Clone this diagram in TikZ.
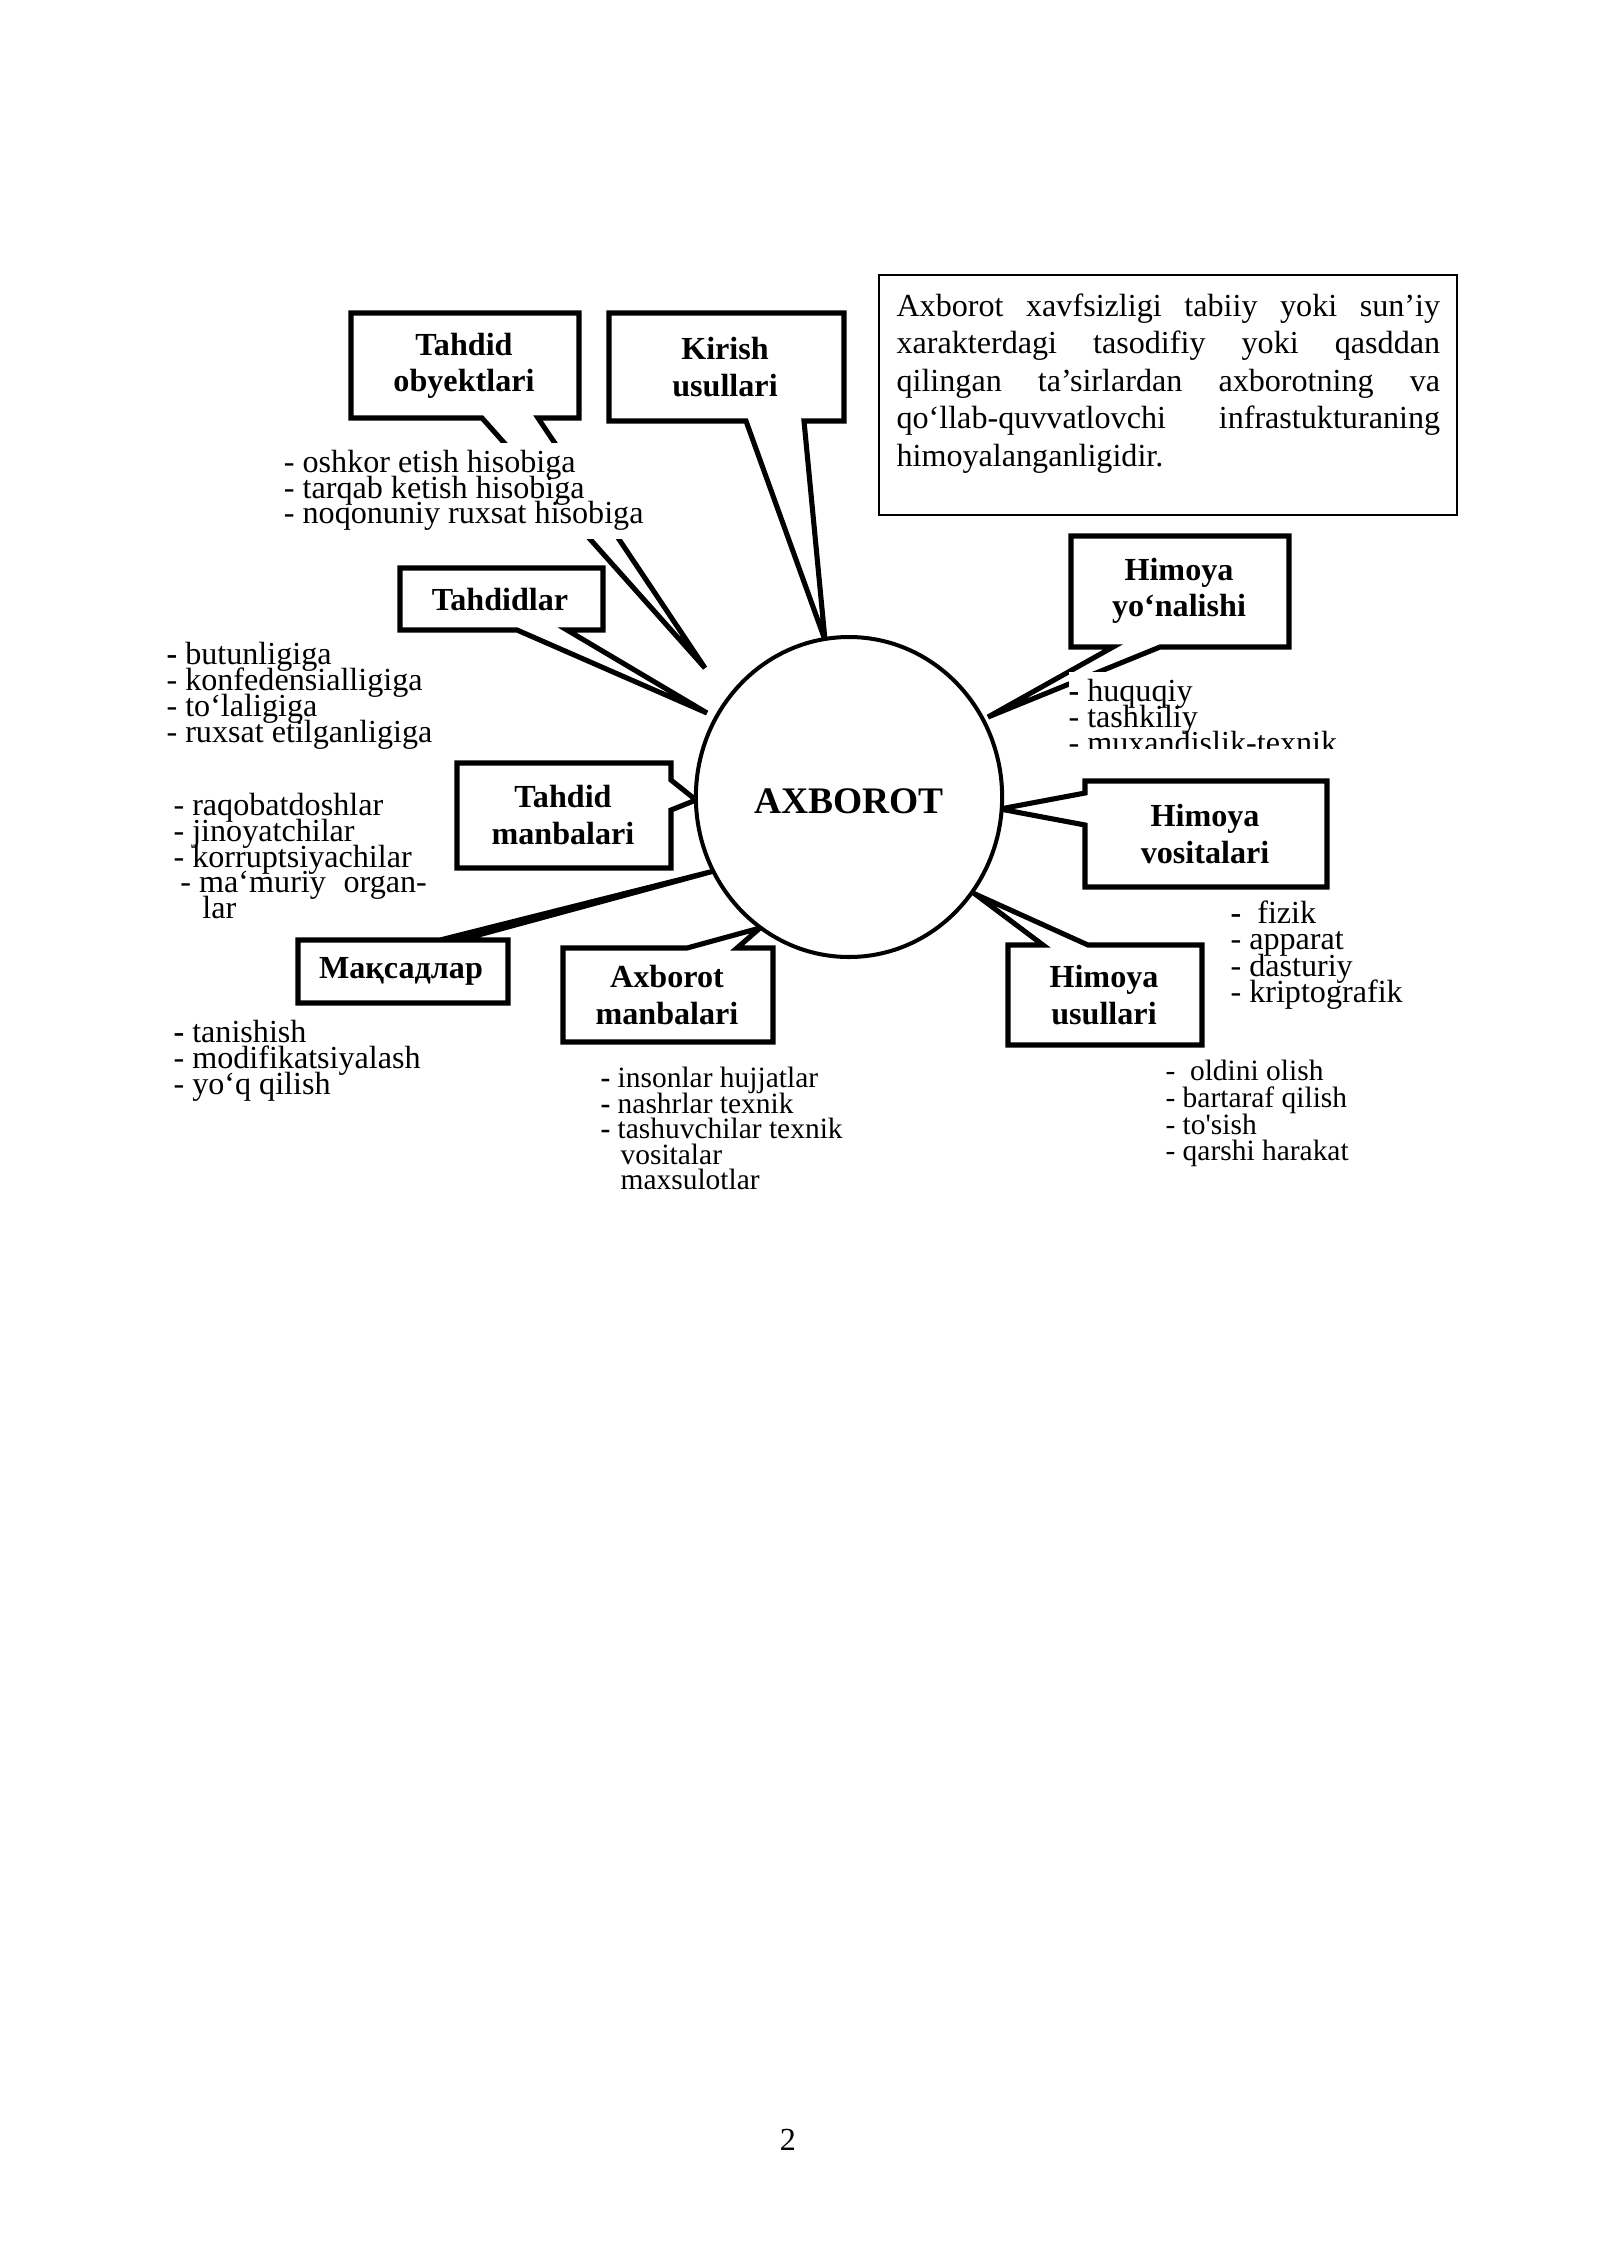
\documentclass[tikz,border=0pt]{standalone}
\usepackage{fontspec}
\newfontfamily\mainserif{Liberation Serif}
\usetikzlibrary{shapes.geometric}
\newcommand\lstfont[2]{\mainserif\fontsize{#1}{#2}\selectfont\lineskiplimit=-30pt\relax}
\newcommand\hdfont{\mainserif\bfseries\fontsize{12}{13.5}\selectfont\lineskiplimit=-30pt\relax}
\newcommand\dffont{\mainserif\fontsize{12}{14.0}\selectfont\lineskiplimit=-30pt\relax}
\newcommand\bd{{\bfseries -}}
\begin{document}
\begin{tikzpicture}[x=0.13125mm,y=-0.13125mm,
  bubble/.style={draw=black, fill=white, line width=1.9pt, line join=miter},
  head/.style={font=\hdfont, align=center, inner sep=0pt},
  lst/.style={anchor=north west, inner sep=0pt, align=left}]

\fill[white] (0,0) rectangle (1600,2262);
\path[use as bounding box] (0,0) rectangle (1600,2262);

% definition box
\draw[line width=1.1pt] (879,275) rectangle (1457,515);
\node (deftext) [lst, font=\dffont] at (896,293) {%
\makebox[203pt][s]{Axborot xavfsizligi tabiiy yoki sun’iy}\\
\makebox[203pt][s]{xarakterdagi tasodifiy yoki qasddan}\\
\makebox[203pt][s]{qilingan ta’sirlardan axborotning va}\\
\makebox[203pt][s]{qo‘llab-quvvatlovchi infrastukturaning}\\
himoyalanganligidir.};

% speech-bubble boxes
\draw[bubble] (351,313) -- (579,313) -- (579,418) -- (538,418) -- (705,668) -- (482,418) -- (351,418) -- cycle;
\draw[bubble] (609,313) -- (844,313) -- (844,421) -- (804,421) -- (825,640) -- (746,421) -- (609,421) -- cycle;
\draw[bubble] (400,568) -- (603,568) -- (603,630) -- (567,630) -- (707,713) -- (517,630) -- (400,630) -- cycle;
\draw[bubble] (457,763) -- (671,763) -- (671,780) -- (696,800) -- (671,810) -- (671,868) -- (457,868) -- cycle;
\draw[bubble] (298,940) -- (440,940) -- (714,871) -- (460,940) -- (508,940) -- (508,1003) -- (298,1003) -- cycle;
\draw[bubble] (563,948) -- (687,948) -- (760,928) -- (737,948) -- (773,948) -- (773,1042) -- (563,1042) -- cycle;
\draw[bubble] (1071,536) -- (1289,536) -- (1289,647) -- (1160,647) -- (988,717) -- (1113,647) -- (1071,647) -- cycle;
\draw[bubble] (1085,781) -- (1327,781) -- (1327,887) -- (1085,887) -- (1085,825) -- (1000,809) -- (1085,793) -- cycle;
\draw[bubble] (1008,945) -- (1043,945) -- (975,894) -- (1088,945) -- (1202,945) -- (1202,1045) -- (1008,1045) -- cycle;

% lists
\node (lobj) [lst, font=\lstfont{12}{9.5}, fill=white, inner ysep=3pt, inner xsep=2pt] at (278,442)
  {- oshkor etish hisobiga\\- tarqab ketish hisobiga\\- noqonuniy ruxsat hisobiga};
\node (lthr) [lst, font=\lstfont{12}{9.7}] at (166,642)
  {\bd\ butunligiga\\- konfedensialligiga\\- to‘laligiga\\- ruxsat etilganligiga};
\node (lsrc) [lst, font=\lstfont{12}{9.6}] at (173,793)
  {- raqobatdoshlar\\- jinoyatchilar\\- korruptsiyachilar\\\hspace*{2.6pt}- ma‘muriy\hspace{0.3em} organ-\\\hspace*{10.8pt}lar};
\node (laim) [lst, font=\lstfont{12}{9.6}] at (173,1020)
  {\bd\ tanishish\\- modifikatsiyalash\\- yo‘q qilish};
\node (linf) [lst, font=\lstfont{11}{9.5}] at (600,1067)
  {\bd\ insonlar hujjatlar\\\bd\ nashrlar texnik\\\bd\ tashuvchilar texnik\\\hspace*{7.5pt}vositalar\\\hspace*{7.5pt}maxsulotlar};
\begin{scope}
  \clip (1040,655) rectangle (1400,748);
  \node (ldir) [lst, font=\lstfont{12}{9.7}, fill=white, inner ysep=3pt] at (1068,671)
    {\bd\ huquqiy\\- tashkiliy\\- muxandislik-texnik};
\end{scope}
\node (lmea) [lst, font=\lstfont{12}{9.9}] at (1230,900)
  {\bd\ \ fizik\\- apparat\\- dasturiy\\- kriptografik};
\node (lmet) [lst, font=\lstfont{11}{9.95}] at (1165,1060)
  {-\ \ oldini olish\\- bartaraf qilish\\- to'sish\\- qarshi harakat};

% central circle
\node (axb) [ellipse, draw, fill=white, line width=1.5pt, minimum width=40.2mm, minimum height=42mm,
  inner sep=0pt, text height=12pt, text depth=0pt,
  font=\mainserif\bfseries\fontsize{14}{16}\selectfont] at (849,797) {AXBOROT};

% headers
\node (hTO) [head] at (464,366) {Tahdid\\obyektlari};
\node (hKU) [head] at (725,367) {Kirish\\usullari};
\node (hT)  [head] at (500,599) {Tahdidlar};
\node (hTM) [head] at (563,815) {Tahdid\\manbalari};
\node (hM)  [head] at (401,971) {Мақсадлар};
\node (hAM) [head] at (667,995) {Axborot\\manbalari};
\node (hHY) [head] at (1179,591) {Himoya\\yo‘nalishi};
\node (hHV) [head] at (1205,834) {Himoya\\vositalari};
\node (hHU) [head] at (1104,995) {Himoya\\usullari};

% page number
\node (pg) [font=\dffont] at (788,2140) {2};
\end{tikzpicture}
\end{document}
